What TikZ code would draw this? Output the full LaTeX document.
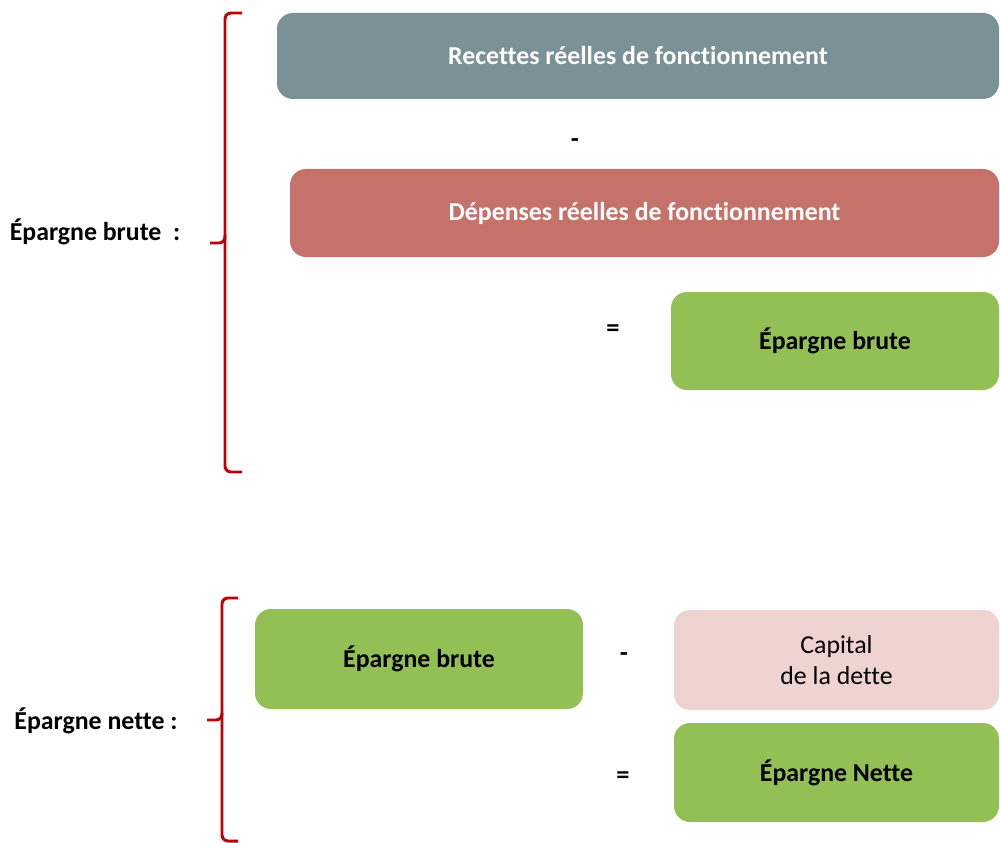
\documentclass[tikz,border=0pt]{standalone}
\usepackage{fontspec}
\setmainfont[Ligatures={NoCommon}]{Carlito}
\usetikzlibrary{positioning}
\definecolor{ep_gray}{HTML}{7A9197}
\definecolor{ep_rose}{HTML}{C5736A}
\definecolor{ep_green}{HTML}{93C055}
\definecolor{ep_pink}{HTML}{EED3D0}
\definecolor{ep_red}{HTML}{C00000}
\tikzset{
	ep_base/.style={font=\fontsize{14.7}{17}\selectfont, inner sep=0pt},
	ep_box/.style={ep_base, rectangle, rounded corners=0.32cm, align=center, font=\fontsize{14.7}{17}\selectfont\bfseries},
	ep_head/.style={ep_box, text=white},
	ep_sign/.style={ep_base, font=\fontsize{15}{17}\selectfont\bfseries},
	ep_label/.style={ep_base, font=\fontsize{14.7}{17}\selectfont\bfseries},
	ep_brace/.style={draw=ep_red, line width=1.7pt, rounded corners=0.12cm}
}

\begin{document}
\begin{tikzpicture}
	\useasboundingbox (0,0) rectangle (20,-16.86);

	% Epargne brute
	\node [ep_head, fill=ep_gray, minimum width=14.44cm, minimum height=1.72cm] (recettes) at (12.76,-1.12) {Recettes réelles de fonctionnement};
	\node [ep_sign] (moins1) at (11.5,-2.86) {-};
	\node [ep_head, fill=ep_rose, minimum width=14.18cm, minimum height=1.76cm] (depenses) at (12.89,-4.26) {Dépenses réelles de fonctionnement};
	\node [ep_sign] (egal1) at (12.26,-6.62) {=};
	\node [ep_box, fill=ep_green, minimum width=6.56cm, minimum height=1.96cm] (brute1) at (16.70,-6.82) {Épargne brute};
	\node [ep_label] (lbrute) at (1.9,-4.64) {Épargne brute\ \ :};
	\draw [ep_brace] (4.84,-0.26) -- (4.5,-0.26) -- (4.5,-4.86) -- (4.2,-4.86);
	\draw [ep_brace] (4.5,-4.7) -- (4.5,-9.44) -- (4.84,-9.44);

	% Epargne nette
	\node [ep_box, fill=ep_green, minimum width=6.56cm, minimum height=2.0cm] (brute2) at (8.38,-13.18) {Épargne brute};
	\node [ep_sign] (moins2) at (12.48,-13.14) {-};
	\node [ep_box, fill=ep_pink, font=\fontsize{14.7}{17.5}\selectfont, minimum width=6.5cm, minimum height=2.0cm] (capital) at (16.73,-13.2) {Capital\\de la dette};
	\node [ep_sign] (egal2) at (12.46,-15.56) {=};
	\node [ep_box, fill=ep_green, minimum width=6.5cm, minimum height=1.98cm] (nette) at (16.73,-15.45) {Épargne Nette};
	\node [ep_label] (lnette) at (1.92,-14.42) {Épargne nette :};
	\draw [ep_brace] (4.76,-11.96) -- (4.44,-11.96) -- (4.44,-14.4) -- (4.14,-14.4);
	\draw [ep_brace] (4.44,-14.25) -- (4.44,-16.82) -- (4.76,-16.82);
\end{tikzpicture}
\end{document}
